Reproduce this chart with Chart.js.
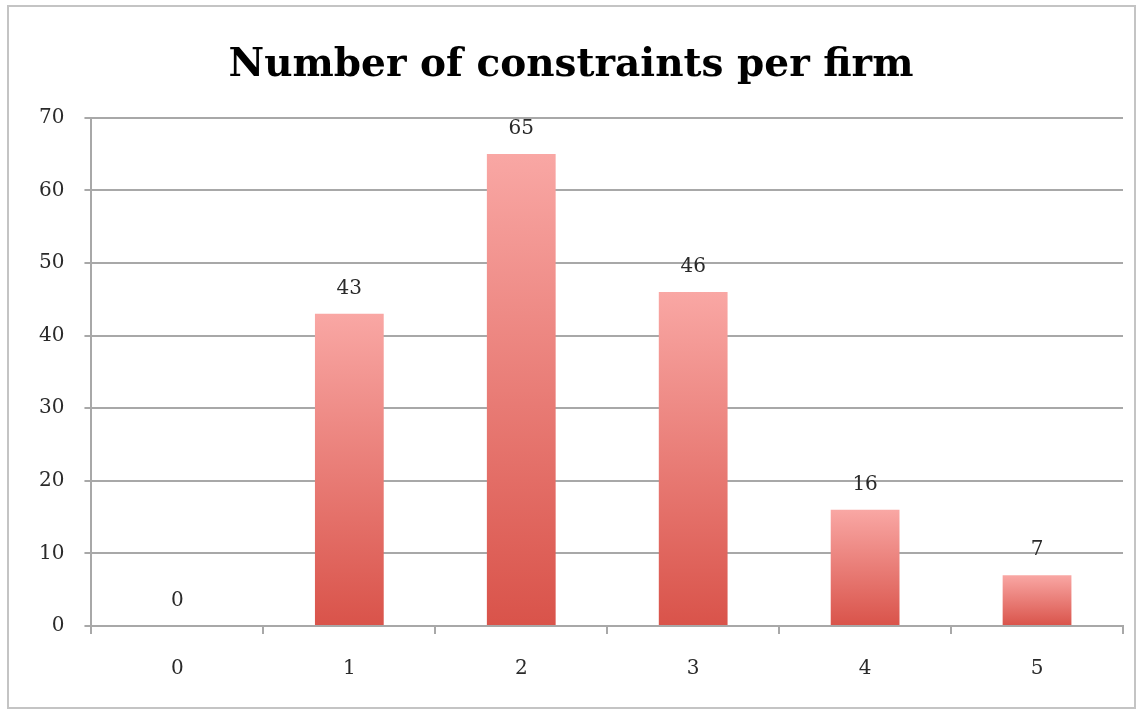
<!DOCTYPE html>
<html>
<head>
<meta charset="utf-8">
<script src="https://cdn.jsdelivr.net/npm/chart.js@4"></script>
<style>
  html, body { margin: 0; padding: 0; background: #fff; }
  #wrap { position: relative; width: 1139px; height: 710px; }
  #frame { position: absolute; left: 7px; top: 5px; width: 1129px; height: 704px; border: 2px solid #c4c4c4; box-sizing: border-box; pointer-events: none; }
</style>
</head>
<body>
<div id="wrap">
  <canvas id="constraintsChart" width="1139" height="710"></canvas>
  <div id="frame"></div>
</div>
<script>
const categories = ["0", "1", "2", "3", "4", "5"];
const firmCounts = [0, 43, 65, 46, 16, 7]; // firms per number of constraints
const yTicks = [0, 10, 20, 30, 40, 50, 60, 70];

// value labels above each bar
const valueLabels = {
    id: 'valueLabels',
    afterDatasetsDraw(chart) {
        const ctx = chart.ctx;
        const meta = chart.getDatasetMeta(0);
        ctx.save();
        ctx.font = '20px "DejaVu Serif"';
        ctx.fillStyle = '#2a2a2a';
        ctx.textAlign = 'center';
        ctx.textBaseline = 'middle';
        meta.data.forEach(function(bar, i) {
            ctx.fillText(String(firmCounts[i]), bar.x, bar.y - 25);
        });
        ctx.restore();
    }
};

function barGradient(context) {
    const chart = context.chart;
    if (!chart.chartArea) return '#e66a63';
    const y = chart.scales.y;
    const v = context.raw;
    const top = y.getPixelForValue(v);
    const base = y.getPixelForValue(0);
    if (base - top < 1) return '#e66a63';
    const g = chart.ctx.createLinearGradient(0, top, 0, base);
    g.addColorStop(0, '#f9a7a4');
    g.addColorStop(1, '#d9534a');
    return g;
}

new Chart(document.getElementById('constraintsChart').getContext('2d'), {
    type: 'bar',
    data: {
        labels: categories,
        datasets: [{
            label: "Firms",
            data: firmCounts,
            backgroundColor: barGradient,
            borderWidth: 0,
            barPercentage: 0.4,
            categoryPercentage: 1.0
        }]
    },
    options: {
        responsive: false,
        animation: false,
        devicePixelRatio: 1,
        layout: { padding: { left: 19, right: 16, top: 0, bottom: 6 } },
        plugins: {
            legend: { display: false },
            tooltip: { enabled: false },
            title: {
                display: true,
                text: "Number of constraints per firm",
                color: '#000',
                font: { family: '"DejaVu Serif"', size: 39, weight: 'bold' },
                padding: { top: 42, bottom: 29 }
            }
        },
        scales: {
            x: {
                grid: {
                    offset: true,
                    drawOnChartArea: false,
                    color: '#a8a8a8',
                    lineWidth: 2,
                    tickLength: 8
                },
                border: { color: '#a8a8a8', width: 2 },
                ticks: {
                    color: '#2a2a2a',
                    font: { family: '"DejaVu Serif"', size: 20 },
                    padding: 23
                }
            },
            y: {
                min: 0,
                max: 70,
                afterBuildTicks(axis) {
                    axis.ticks = yTicks.map(v => ({ value: v }));
                },
                grid: {
                    color: '#a8a8a8',
                    lineWidth: 2,
                    tickLength: 7
                },
                border: { color: '#a8a8a8', width: 2 },
                ticks: {
                    color: '#2a2a2a',
                    font: { family: '"DejaVu Serif"', size: 20 },
                    padding: 20
                }
            }
        }
    },
    plugins: [valueLabels]
});
</script>
</body>
</html>
